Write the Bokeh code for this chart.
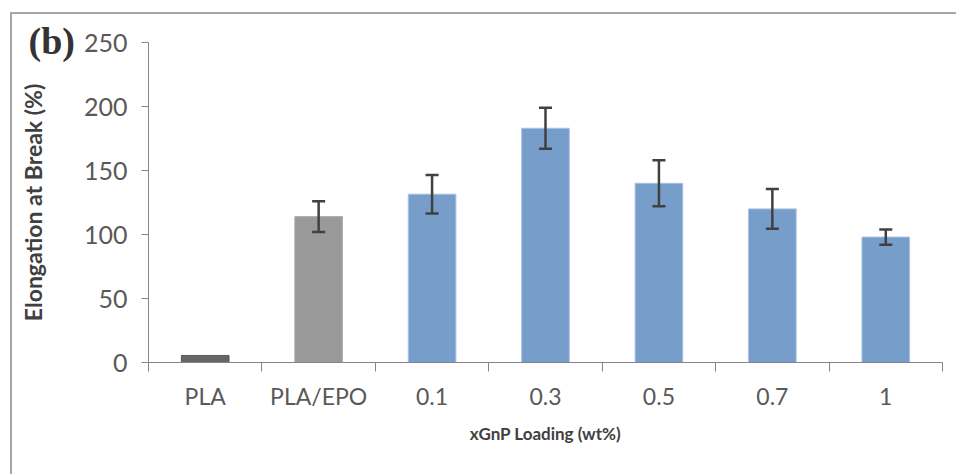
from bokeh.plotting import figure
from bokeh.models import Range1d, FixedTicker, ColumnDataSource, Whisker, TeeHead
from bokeh.embed import file_html
from bokeh.resources import INLINE
import numpy as np

categories = ["PLA", "PLA/EPO", "0.1", "0.3", "0.5", "0.7", "1"]
elongation = [5.5, 114, 131.5, 183, 140, 120, 98]
error = [0, 12, 15, 16, 18, 15.5, 6]
colors = ["#666666", "#999999"] + ["#779ecb"] * 5
outlines = ["#5a5a5a", "#adadad"] + ["#a9c2e2"] * 5
y_ticks = [0, 50, 100, 150, 200, 250]

x = list(np.arange(len(categories)) + 0.5)

src = ColumnDataSource(dict(x=x, top=elongation, color=colors, line=outlines))
err_idx = [i for i, e in enumerate(error) if e > 0]
err_src = ColumnDataSource(dict(
    x=[x[i] for i in err_idx],
    upper=[elongation[i] + error[i] for i in err_idx],
    lower=[elongation[i] - error[i] for i in err_idx],
))

p = figure(width=946, height=462, x_range=Range1d(0, len(categories)),
           y_range=Range1d(0, 250), output_backend="svg", toolbar_location=None,
           min_border_left=136, min_border_top=28, min_border_bottom=114,
           min_border_right=16)
p.styles = {"margin-left": "10px", "margin-top": "12px",
            "border-left": "2px solid #a6a6a6", "border-top": "2px solid #a6a6a6"}
p.outline_line_color = None
p.xgrid.visible = False
p.ygrid.visible = False

p.title.text = "(b)"
p.title.align = "left"
p.title.offset = -120
p.title.standoff = -39
p.title.text_line_height = 0.3
p.title.text_font = "Liberation Serif"
p.title.text_font_style = "bold"
p.title.text_font_size = "38px"
p.title.text_color = "#333333"

p.vbar(x="x", top="top", width=0.42, bottom=0, source=src,
       fill_color="color", line_color="line", line_width=1)

wh = Whisker(base="x", upper="upper", lower="lower", source=err_src,
             line_color="#404040", line_width=2.5, level="overlay",
             upper_head=TeeHead(size=13, line_color="#404040", line_width=2.5),
             lower_head=TeeHead(size=13, line_color="#404040", line_width=2.5))
p.add_layout(wh)

font = "Lato"
ya = p.yaxis[0]
ya.ticker = FixedTicker(ticks=y_ticks)
ya.axis_line_color = "#868686"
ya.major_tick_line_color = "#868686"
ya.major_tick_out = 7
ya.major_tick_in = 0
ya.minor_tick_line_color = None
ya.major_label_text_font = font
ya.major_label_text_font_size = "25px"
ya.major_label_text_color = "#595959"
ya.major_label_standoff = 14
ya.axis_label = "Elongation at Break (%)"
ya.axis_label_text_font = font
ya.axis_label_text_font_style = "bold"
ya.axis_label_text_font_size = "23px"
ya.axis_label_text_color = "#404040"
ya.axis_label_standoff = 34

xa = p.xaxis[0]
xa.ticker = FixedTicker(ticks=x, minor_ticks=list(range(len(categories) + 1)))
xa.major_label_overrides = {xv: c for xv, c in zip(x, categories)}
xa.axis_line_color = "#868686"
xa.major_tick_out = 0
xa.major_tick_in = 0
xa.major_tick_line_color = None
xa.minor_tick_line_color = "#868686"
xa.minor_tick_out = 9
xa.minor_tick_in = 0
xa.major_label_text_font = font
xa.major_label_text_font_size = "23px"
xa.major_label_text_color = "#595959"
xa.major_label_standoff = 10
xa.axis_label = "xGnP Loading (wt%)"
xa.axis_label_text_font = font
xa.axis_label_text_font_style = "bold"
xa.axis_label_text_font_size = "17px"
xa.axis_label_text_color = "#404040"
xa.axis_label_standoff = 10

open("out.html", "w").write(file_html(p, INLINE))
